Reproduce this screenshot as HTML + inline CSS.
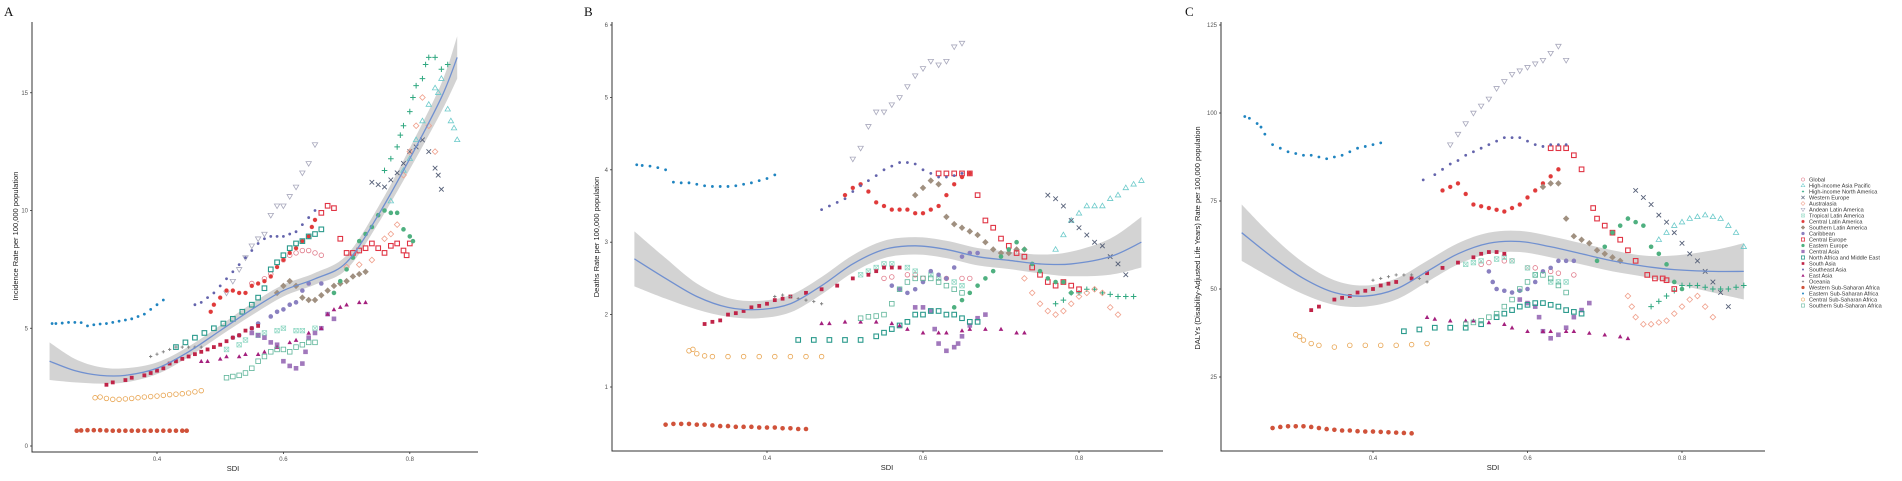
<!DOCTYPE html>
<html><head><meta charset="utf-8">
<style>
html,body{margin:0;padding:0;background:#fff;}
svg{display:block;font-family:"Liberation Sans",sans-serif;}
</style></head>
<body>
<svg id="fig" width="1902" height="481" viewBox="0 0 1902 481" xmlns="http://www.w3.org/2000/svg"></svg>
<script>
// ---- data ----
const regions = ["Global","High-income Asia Pacific","High-income North America","Western Europe","Australasia","Andean Latin America","Tropical Latin America","Central Latin America","Southern Latin America","Caribbean","Central Europe","Eastern Europe","Central Asia","North Africa and Middle East","South Asia","Southeast Asia","East Asia","Oceania","Western Sub-Saharan Africa","Eastern Sub-Saharan Africa","Central Sub-Saharan Africa","Southern Sub-Saharan Africa"];
const colors = ["#e07a8a","#6ccaca","#30a880","#566078","#f0a08c","#a8a8bc","#90d8c4","#e03a3a","#a09080","#8a80c0","#e03444","#4fb080","#9060b0","#2a9a8c","#c02448","#6464ac","#a4207e","#808080","#d0523a","#1f84c0","#e8a450","#5cb498"];
const shapes = ["ocircle","otri","plus","cross","odiamond","odtri","boxx","circx","diamplus","circplus","sqx","fcircle","fsqr","sqbox","fsq","dot","ftri","splus","fcircle","dot","ocircle","osq"];

// Panel A: incidence
const incidenceData = [
 [[0.55,6.9],[0.57,7.1],[0.58,7.3],[0.60,7.9],[0.61,8.1],[0.62,8.2],[0.63,8.3],[0.64,8.3],[0.65,8.2],[0.66,8.1]],
 [[0.77,10.4],[0.79,11.7],[0.80,12.2],[0.81,13.0],[0.82,13.8],[0.83,14.5],[0.84,15.2],[0.845,15.0],[0.85,15.6],[0.86,14.3],[0.865,13.8],[0.87,13.5],[0.875,13.0]],
 [[0.76,11.7],[0.77,12.2],[0.78,12.7],[0.785,13.2],[0.79,13.6],[0.80,14.2],[0.805,14.8],[0.81,15.3],[0.82,15.6],[0.825,16.2],[0.83,16.5],[0.84,16.5],[0.85,16.0],[0.86,16.2]],
 [[0.74,11.2],[0.75,11.1],[0.76,11.0],[0.77,11.3],[0.78,11.6],[0.79,12.0],[0.80,12.5],[0.81,12.7],[0.82,13.0],[0.83,12.5],[0.84,11.8],[0.845,11.5],[0.85,10.9]],
 [[0.70,7.6],[0.72,7.7],[0.74,7.9],[0.76,8.8],[0.77,9.0],[0.78,9.4],[0.79,11.5],[0.80,12.5],[0.81,13.6],[0.82,14.8],[0.83,13.6],[0.84,12.5]],
 [[0.51,6.5],[0.52,7.0],[0.53,7.5],[0.54,8.0],[0.55,8.5],[0.56,8.8],[0.57,9.0],[0.58,9.8],[0.59,10.2],[0.60,10.2],[0.61,10.6],[0.62,11.0],[0.63,11.6],[0.64,12.0],[0.65,12.8]],
 [[0.51,4.1],[0.53,4.3],[0.54,4.5],[0.56,4.7],[0.57,4.8],[0.59,4.9],[0.60,5.0],[0.62,4.9],[0.63,4.9],[0.65,5.0]],
 [[0.485,5.7],[0.49,6.0],[0.50,6.3],[0.51,6.6],[0.52,6.6],[0.53,6.5],[0.54,6.5],[0.55,6.8],[0.56,6.9],[0.57,7.0],[0.58,7.2],[0.59,7.6],[0.60,7.9],[0.61,8.2],[0.62,8.4],[0.63,8.7],[0.64,8.9],[0.645,9.3],[0.65,9.6]],
 [[0.59,6.5],[0.60,6.8],[0.61,7.0],[0.62,6.8],[0.63,6.3],[0.64,6.2],[0.65,6.2],[0.66,6.4],[0.67,6.6],[0.68,6.8],[0.69,6.9],[0.70,7.0],[0.71,7.2],[0.72,7.3],[0.73,7.4]],
 [[0.52,4.6],[0.53,4.7],[0.55,5.0],[0.56,5.2],[0.58,5.5],[0.59,5.7],[0.60,5.8],[0.61,6.0],[0.62,6.1],[0.63,6.6],[0.64,6.9],[0.66,6.9]],
 [[0.66,9.9],[0.67,10.2],[0.68,10.1],[0.69,8.8],[0.70,8.2],[0.71,8.2],[0.72,8.3],[0.73,8.4],[0.74,8.6],[0.75,8.4],[0.76,8.2],[0.77,8.5],[0.78,8.6],[0.79,8.3],[0.795,8.1],[0.80,8.6]],
 [[0.68,6.5],[0.69,7.0],[0.70,7.5],[0.71,8.0],[0.72,8.7],[0.73,9.0],[0.74,9.3],[0.75,9.8],[0.76,10.0],[0.77,9.9],[0.78,9.9],[0.79,9.2],[0.80,8.9],[0.805,8.7]],
 [[0.55,4.8],[0.56,4.7],[0.57,4.6],[0.58,4.4],[0.59,4.3],[0.60,3.6],[0.61,3.4],[0.62,3.3],[0.63,3.5],[0.635,4.0],[0.64,4.6],[0.65,4.8],[0.66,5.0],[0.67,5.6],[0.68,5.4]],
 [[0.43,4.2],[0.445,4.4],[0.46,4.6],[0.475,4.8],[0.49,5.0],[0.505,5.2],[0.52,5.4],[0.535,5.7],[0.55,6.0],[0.56,6.3],[0.57,6.7],[0.58,7.5],[0.59,7.8],[0.60,8.1],[0.61,8.4],[0.62,8.6],[0.63,8.7],[0.64,8.9],[0.65,9.0],[0.66,9.2]],
 [[0.32,2.6],[0.33,2.7],[0.35,2.8],[0.36,2.9],[0.38,3.0],[0.39,3.1],[0.40,3.2],[0.41,3.3],[0.42,3.5],[0.43,3.6],[0.44,3.7],[0.45,3.8],[0.46,3.9],[0.47,4.0],[0.48,4.1],[0.49,4.2],[0.50,4.3],[0.51,4.45],[0.52,4.6],[0.53,4.7],[0.54,4.9],[0.55,5.0],[0.56,5.1]],
 [[0.46,6.0],[0.47,6.1],[0.48,6.3],[0.49,6.5],[0.50,6.8],[0.51,7.1],[0.52,7.4],[0.53,7.7],[0.54,8.0],[0.55,8.3],[0.56,8.6],[0.57,8.8],[0.58,8.9],[0.59,8.9],[0.60,8.9],[0.61,9.0],[0.62,9.1],[0.63,9.4],[0.64,9.7],[0.65,10.0]],
 [[0.47,3.6],[0.48,3.6],[0.50,3.7],[0.51,3.8],[0.53,3.8],[0.54,3.9],[0.56,3.9],[0.57,4.0],[0.59,4.2],[0.61,4.4],[0.62,4.5],[0.64,4.8],[0.66,5.0],[0.67,5.6],[0.68,5.8],[0.69,5.9],[0.70,6.0],[0.72,6.1],[0.73,6.1]],
 [[0.39,3.8],[0.40,3.9],[0.41,4.0],[0.42,4.1],[0.43,4.2],[0.44,4.2],[0.45,4.2],[0.46,4.2],[0.47,4.2]],
 [[0.273,0.65],[0.28,0.66],[0.29,0.67],[0.30,0.67],[0.31,0.67],[0.32,0.66],[0.33,0.65],[0.34,0.65],[0.35,0.65],[0.36,0.65],[0.37,0.65],[0.38,0.65],[0.39,0.65],[0.40,0.65],[0.41,0.65],[0.42,0.65],[0.43,0.65],[0.44,0.65],[0.447,0.65]],
 [[0.234,5.2],[0.24,5.2],[0.25,5.22],[0.26,5.25],[0.27,5.25],[0.28,5.24],[0.29,5.1],[0.30,5.15],[0.31,5.18],[0.32,5.2],[0.33,5.25],[0.34,5.3],[0.35,5.35],[0.36,5.4],[0.37,5.5],[0.38,5.6],[0.39,5.8],[0.40,6.0],[0.41,6.2]],
 [[0.302,2.05],[0.31,2.08],[0.32,2.02],[0.33,1.98],[0.34,1.98],[0.35,2.0],[0.36,2.02],[0.37,2.05],[0.38,2.08],[0.39,2.1],[0.40,2.12],[0.41,2.15],[0.42,2.18],[0.43,2.2],[0.44,2.22],[0.45,2.25],[0.46,2.3],[0.47,2.35]],
 [[0.51,2.9],[0.52,2.95],[0.53,3.0],[0.54,3.1],[0.55,3.3],[0.56,3.6],[0.57,3.8],[0.58,4.0],[0.59,4.1],[0.60,4.1],[0.61,4.0],[0.62,4.2],[0.63,4.3],[0.64,4.4],[0.65,4.4]]
];
const smoothSdi = [0.23,0.27,0.31,0.35,0.40,0.45,0.50,0.55,0.60,0.65,0.70,0.75,0.80,0.85,0.875];
const smoothInc = [3.6,3.2,3.0,3.0,3.3,4.0,4.9,5.8,6.6,7.1,7.8,9.8,12.2,14.8,16.5];
const bandInc  = [0.8,0.5,0.35,0.3,0.25,0.22,0.22,0.25,0.25,0.25,0.3,0.35,0.45,0.6,0.9];

// Panel B: deaths
const deathsData = [
 [[0.55,2.5],[0.56,2.52],[0.58,2.55],[0.59,2.55],[0.60,2.5],[0.62,2.5],[0.63,2.5],[0.65,2.5],[0.66,2.5]],
 [[0.77,2.9],[0.78,3.1],[0.79,3.3],[0.80,3.4],[0.81,3.5],[0.82,3.5],[0.83,3.5],[0.84,3.6],[0.85,3.65],[0.86,3.75],[0.87,3.8],[0.88,3.85]],
 [[0.77,2.15],[0.78,2.2],[0.79,2.3],[0.80,2.3],[0.81,2.35],[0.82,2.35],[0.83,2.3],[0.84,2.28],[0.85,2.25],[0.86,2.25],[0.87,2.25]],
 [[0.76,3.65],[0.77,3.6],[0.78,3.5],[0.79,3.3],[0.80,3.2],[0.81,3.1],[0.82,3.0],[0.83,2.95],[0.84,2.8],[0.85,2.7],[0.86,2.55]],
 [[0.73,2.5],[0.74,2.3],[0.75,2.15],[0.76,2.05],[0.77,2.0],[0.78,2.05],[0.79,2.15],[0.80,2.25],[0.81,2.3],[0.82,2.35],[0.83,2.3],[0.84,2.1],[0.85,2.0]],
 [[0.51,4.15],[0.52,4.3],[0.53,4.6],[0.54,4.8],[0.55,4.8],[0.56,4.9],[0.57,5.0],[0.58,5.15],[0.59,5.3],[0.60,5.4],[0.61,5.5],[0.62,5.45],[0.63,5.5],[0.64,5.7],[0.65,5.75]],
 [[0.52,2.55],[0.53,2.6],[0.54,2.65],[0.55,2.7],[0.56,2.7],[0.58,2.65],[0.59,2.6],[0.61,2.55],[0.62,2.5],[0.64,2.45],[0.65,2.4]],
 [[0.50,3.65],[0.51,3.75],[0.52,3.8],[0.53,3.7],[0.54,3.55],[0.55,3.5],[0.56,3.45],[0.57,3.45],[0.58,3.45],[0.59,3.4],[0.60,3.4],[0.61,3.45],[0.62,3.5],[0.63,3.65],[0.64,3.8],[0.65,3.9],[0.66,3.95]],
 [[0.59,3.65],[0.60,3.75],[0.61,3.85],[0.62,3.8],[0.63,3.35],[0.64,3.25],[0.65,3.2],[0.66,3.15],[0.67,3.1],[0.68,3.0],[0.69,2.9],[0.70,2.85],[0.71,2.85],[0.72,2.9],[0.73,2.9]],
 [[0.56,2.4],[0.57,2.35],[0.58,2.3],[0.59,2.35],[0.60,2.45],[0.61,2.6],[0.62,2.55],[0.63,2.5],[0.64,2.65],[0.65,2.8],[0.66,2.85],[0.67,2.85]],
 [[0.62,3.95],[0.63,3.95],[0.64,3.95],[0.65,3.95],[0.66,3.95],[0.67,3.65],[0.68,3.3],[0.69,3.2],[0.70,3.05],[0.71,2.95],[0.72,2.85],[0.73,2.8],[0.74,2.65],[0.75,2.55],[0.76,2.45],[0.77,2.4],[0.78,2.45],[0.79,2.4],[0.80,2.35]],
 [[0.64,2.1],[0.65,2.2],[0.66,2.3],[0.67,2.4],[0.68,2.5],[0.69,2.6],[0.70,2.8],[0.71,2.9],[0.72,3.0],[0.73,2.9],[0.74,2.7],[0.75,2.6],[0.76,2.5],[0.77,2.45],[0.78,2.45],[0.79,2.3]],
 [[0.59,2.1],[0.60,2.1],[0.61,2.05],[0.615,1.8],[0.62,1.6],[0.63,1.5],[0.64,1.55],[0.645,1.6],[0.65,1.7],[0.66,1.85],[0.67,1.95],[0.68,2.0]],
 [[0.44,1.65],[0.46,1.65],[0.48,1.65],[0.50,1.65],[0.52,1.65],[0.54,1.7],[0.55,1.75],[0.56,1.8],[0.57,1.85],[0.58,1.9],[0.59,2.0],[0.60,2.0],[0.61,2.05],[0.62,2.05],[0.63,2.0],[0.64,2.0],[0.65,1.95],[0.66,1.9],[0.67,1.9]],
 [[0.32,1.87],[0.33,1.9],[0.34,1.92],[0.35,2.0],[0.36,2.02],[0.37,2.05],[0.38,2.1],[0.39,2.12],[0.40,2.15],[0.41,2.2],[0.42,2.22],[0.43,2.25],[0.45,2.3],[0.47,2.35],[0.49,2.4],[0.51,2.5],[0.53,2.55],[0.54,2.6],[0.55,2.65],[0.56,2.65],[0.57,2.65]],
 [[0.47,3.45],[0.48,3.5],[0.49,3.55],[0.50,3.6],[0.51,3.7],[0.52,3.78],[0.53,3.85],[0.54,3.92],[0.55,4.0],[0.56,4.05],[0.57,4.1],[0.58,4.1],[0.59,4.08],[0.60,4.0],[0.61,3.95],[0.62,3.9],[0.63,3.9],[0.64,3.92],[0.65,3.95]],
 [[0.47,1.88],[0.48,1.88],[0.50,1.9],[0.52,1.9],[0.54,1.9],[0.56,1.88],[0.57,1.85],[0.58,1.8],[0.60,1.75],[0.62,1.75],[0.63,1.75],[0.65,1.78],[0.66,1.8],[0.68,1.8],[0.70,1.8],[0.72,1.75],[0.73,1.75]],
 [[0.41,2.25],[0.42,2.27],[0.43,2.25],[0.44,2.22],[0.45,2.2],[0.46,2.18],[0.47,2.15]],
 [[0.27,0.48],[0.28,0.49],[0.29,0.49],[0.30,0.49],[0.31,0.48],[0.32,0.48],[0.33,0.47],[0.34,0.46],[0.35,0.46],[0.36,0.45],[0.37,0.45],[0.38,0.45],[0.39,0.44],[0.40,0.44],[0.41,0.44],[0.42,0.43],[0.43,0.43],[0.44,0.42],[0.45,0.42]],
 [[0.233,4.07],[0.24,4.06],[0.25,4.05],[0.26,4.03],[0.27,4.0],[0.28,3.83],[0.29,3.82],[0.30,3.82],[0.31,3.8],[0.32,3.78],[0.33,3.77],[0.34,3.77],[0.35,3.77],[0.36,3.78],[0.37,3.8],[0.38,3.82],[0.39,3.85],[0.40,3.88],[0.41,3.93]],
 [[0.30,1.5],[0.305,1.52],[0.31,1.46],[0.32,1.43],[0.33,1.42],[0.35,1.42],[0.37,1.42],[0.39,1.42],[0.41,1.42],[0.43,1.42],[0.45,1.42],[0.47,1.42]],
 [[0.52,1.95],[0.53,1.97],[0.54,1.98],[0.55,2.0],[0.56,2.15],[0.57,2.35],[0.58,2.45],[0.59,2.5],[0.60,2.5],[0.61,2.5],[0.62,2.45],[0.63,2.4],[0.64,2.35],[0.65,2.3]]
];
const smoothSdiB = [0.23,0.27,0.31,0.35,0.39,0.43,0.47,0.51,0.55,0.59,0.63,0.67,0.71,0.75,0.79,0.84,0.88];
const smoothDeaths = [2.77,2.5,2.25,2.1,2.07,2.15,2.4,2.7,2.9,2.95,2.9,2.8,2.75,2.7,2.7,2.8,3.0];
const bandDeaths = [0.38,0.28,0.18,0.13,0.12,0.12,0.12,0.12,0.12,0.12,0.12,0.12,0.12,0.13,0.17,0.25,0.35];

// Panel C: DALYs
const dalysData = [
 [[0.54,57],[0.55,57.5],[0.57,58],[0.58,58],[0.60,56],[0.61,56],[0.63,55],[0.64,54.5],[0.66,54]],
 [[0.77,64],[0.78,66],[0.79,68],[0.80,69],[0.81,70],[0.82,70.5],[0.83,71],[0.84,70.5],[0.85,70],[0.86,68],[0.87,66],[0.88,62]],
 [[0.76,45],[0.77,46.5],[0.78,48],[0.79,49.5],[0.80,51],[0.81,51],[0.82,51],[0.83,50.5],[0.84,50],[0.85,50],[0.86,50],[0.87,50.5],[0.88,51]],
 [[0.74,78],[0.75,76],[0.76,74],[0.77,71],[0.78,69],[0.79,66],[0.80,63],[0.81,60],[0.82,58],[0.83,55],[0.84,52],[0.85,49],[0.86,45]],
 [[0.73,48],[0.735,45],[0.74,42],[0.75,40],[0.76,40],[0.77,40.5],[0.78,41],[0.79,43],[0.80,45],[0.81,47],[0.82,48],[0.83,45],[0.84,42]],
 [[0.50,91],[0.51,94],[0.52,97],[0.53,100],[0.54,102],[0.55,104],[0.56,107],[0.57,109],[0.58,111],[0.59,112],[0.60,113],[0.61,114],[0.62,115],[0.63,117],[0.64,119],[0.65,115]],
 [[0.52,57],[0.53,57.5],[0.54,58],[0.56,58.5],[0.57,59],[0.58,58],[0.60,56],[0.61,54],[0.63,52],[0.64,52],[0.65,52]],
 [[0.49,78],[0.50,79],[0.51,80],[0.52,77],[0.53,74],[0.54,73.5],[0.55,73],[0.56,72.5],[0.57,72],[0.58,73],[0.59,74],[0.60,76],[0.61,78],[0.62,80],[0.63,82],[0.64,84]],
 [[0.62,79],[0.63,80],[0.64,80],[0.65,70],[0.66,65],[0.67,64],[0.68,63],[0.69,61],[0.70,60],[0.71,59],[0.72,58]],
 [[0.55,55],[0.555,52],[0.56,50],[0.57,49.5],[0.58,49],[0.59,49.5],[0.60,50],[0.61,52],[0.62,55],[0.63,56],[0.64,58],[0.65,58],[0.66,58]],
 [[0.63,90],[0.64,90],[0.65,90],[0.66,88],[0.67,84],[0.685,73],[0.69,70],[0.70,68],[0.71,66],[0.72,64],[0.73,61],[0.74,58],[0.755,54],[0.765,53],[0.775,53],[0.78,52.5],[0.79,50]],
 [[0.69,58],[0.70,62],[0.71,66],[0.72,68],[0.73,70],[0.74,69],[0.75,68],[0.76,62],[0.77,60],[0.78,57],[0.79,52],[0.80,50]],
 [[0.59,47],[0.60,46],[0.61,45],[0.615,42],[0.62,38],[0.63,36],[0.64,37],[0.65,39],[0.66,42],[0.67,44],[0.68,46]],
 [[0.44,38],[0.46,38.5],[0.48,39],[0.50,39],[0.52,39],[0.54,40],[0.56,42],[0.57,43],[0.58,44],[0.59,45],[0.60,45.5],[0.61,46],[0.62,46],[0.63,45.5],[0.64,45],[0.65,44],[0.66,43.5],[0.67,43]],
 [[0.32,44],[0.33,45],[0.35,47],[0.36,47.5],[0.37,48],[0.38,49],[0.39,49.5],[0.40,50],[0.41,51],[0.42,51.5],[0.43,52],[0.45,53],[0.47,54.5],[0.49,56],[0.51,57.5],[0.53,59],[0.54,60],[0.55,60.5],[0.56,60.5],[0.57,60]],
 [[0.465,81],[0.48,82.5],[0.49,84],[0.50,85.5],[0.51,86.5],[0.52,88],[0.53,89],[0.54,90],[0.55,91],[0.56,92],[0.57,93],[0.58,93],[0.59,93],[0.60,92],[0.61,91],[0.62,90.5],[0.63,91],[0.64,91],[0.65,91]],
 [[0.47,42],[0.48,41.5],[0.50,41],[0.52,41],[0.53,41],[0.55,40.5],[0.57,40],[0.58,39],[0.60,38],[0.62,38],[0.63,38],[0.65,38],[0.66,38],[0.68,37.5],[0.70,37],[0.72,36.5],[0.73,36]],
 [[0.40,52.5],[0.41,53],[0.42,53.5],[0.43,54],[0.44,54],[0.45,54],[0.46,53],[0.47,52]],
 [[0.27,10.5],[0.28,10.8],[0.29,11],[0.30,11],[0.31,11],[0.32,10.8],[0.33,10.5],[0.34,10.2],[0.35,10],[0.36,9.8],[0.37,9.8],[0.38,9.6],[0.39,9.5],[0.40,9.5],[0.41,9.4],[0.42,9.3],[0.43,9.2],[0.44,9.1],[0.45,9]],
 [[0.234,99],[0.24,98.5],[0.25,97],[0.255,96],[0.26,94],[0.27,91],[0.28,90],[0.29,89],[0.30,88.5],[0.31,88],[0.32,88],[0.33,87.5],[0.34,87],[0.35,87.5],[0.36,88],[0.37,89],[0.38,90],[0.39,90.5],[0.40,91],[0.41,91.5]],
 [[0.30,37],[0.305,36.5],[0.31,35.5],[0.32,34.5],[0.33,34],[0.35,33.5],[0.37,34],[0.39,34],[0.41,34],[0.43,34],[0.45,34.2],[0.47,34.5]],
 [[0.52,40],[0.53,40.5],[0.54,41],[0.55,42],[0.56,43],[0.57,45],[0.58,47],[0.59,50],[0.60,52],[0.61,54],[0.62,54],[0.63,53],[0.64,51],[0.65,49]]
];
const smoothSdiC = [0.23,0.27,0.31,0.35,0.39,0.43,0.47,0.51,0.55,0.59,0.63,0.67,0.71,0.75,0.79,0.84,0.88];
const smoothDalys = [66,59,53,49,48,50,55,60,63,63.5,62,60,58,56.5,55.5,55,55];
const bandDalys = [8,6,4.5,3.5,3,3,3,3,3,3,3,3,3,3,4,6,8];

const yTicksA = [0,5,10,15];
const yTicksB = [1,2,3,4,5,6];
const yTicksC = [25,50,75,100,125];
const xTicks = [0.4,0.6,0.8];

// ---- drawing ----
const NS="http://www.w3.org/2000/svg";
const svg=document.getElementById('fig');
function mk(tag,attrs,parent){const e=document.createElementNS(NS,tag);for(const k in attrs)e.setAttribute(k,attrs[k]);(parent||svg).appendChild(e);return e;}

function marker(g,shape,x,y,c){
  const r=2.3;let e;
  switch(shape){
    case "ocircle": e=mk('circle',{cx:x,cy:y,r:r,fill:'none',stroke:c,'stroke-width':0.8},g);break;
    case "fcircle": e=mk('circle',{cx:x,cy:y,r:r,fill:c},g);break;
    case "dot": e=mk('circle',{cx:x,cy:y,r:1.4,fill:c},g);break;
    case "otri": e=mk('path',{d:`M${x},${y-r-0.5}L${x+r+0.4},${y+r-0.5}L${x-r-0.4},${y+r-0.5}Z`,fill:'none',stroke:c,'stroke-width':0.8},g);break;
    case "ftri": e=mk('path',{d:`M${x},${y-r}L${x+r},${y+r-0.5}L${x-r},${y+r-0.5}Z`,fill:c},g);break;
    case "odtri": e=mk('path',{d:`M${x},${y+r+0.5}L${x+r+0.4},${y-r+0.5}L${x-r-0.4},${y-r+0.5}Z`,fill:'none',stroke:c,'stroke-width':0.8},g);break;
    case "plus": e=mk('path',{d:`M${x-r-0.5},${y}H${x+r+0.5}M${x},${y-r-0.5}V${y+r+0.5}`,stroke:c,'stroke-width':1},g);break;
    case "splus": e=mk('path',{d:`M${x-1.6},${y}H${x+1.6}M${x},${y-1.6}V${y+1.6}`,stroke:c,'stroke-width':0.9},g);break;
    case "cross": e=mk('path',{d:`M${x-r},${y-r}L${x+r},${y+r}M${x-r},${y+r}L${x+r},${y-r}`,stroke:c,'stroke-width':0.9},g);break;
    case "odiamond": e=mk('path',{d:`M${x},${y-r-0.5}L${x+r+0.5},${y}L${x},${y+r+0.5}L${x-r-0.5},${y}Z`,fill:'none',stroke:c,'stroke-width':0.8},g);break;
    case "diamplus": e=mk('path',{d:`M${x},${y-r-0.5}L${x+r+0.5},${y}L${x},${y+r+0.5}L${x-r-0.5},${y}Z`,fill:c,stroke:c,'stroke-width':0.6},g);break;
    case "boxx": e=mk('path',{d:`M${x-r},${y-r}h${2*r}v${2*r}h${-2*r}ZM${x-r},${y-r}L${x+r},${y+r}M${x-r},${y+r}L${x+r},${y-r}`,fill:'none',stroke:c,'stroke-width':0.7},g);break;
    case "circx": e=mk('circle',{cx:x,cy:y,r:r,fill:c,stroke:'#fff','stroke-width':0.3},g);break;
    case "circplus": e=mk('circle',{cx:x,cy:y,r:r,fill:c},g);break;
    case "sqx": e=mk('rect',{x:x-r,y:y-r,width:2*r,height:2*r,fill:'none',stroke:c,'stroke-width':1.1},g);break;
    case "fsqr": e=mk('rect',{x:x-r,y:y-r,width:2*r,height:2*r,fill:c,opacity:0.85},g);break;
    case "sqbox": e=mk('rect',{x:x-r,y:y-r,width:2*r,height:2*r,fill:'none',stroke:c,'stroke-width':1.1},g);break;
    case "fsq": e=mk('rect',{x:x-1.9,y:y-1.9,width:3.8,height:3.8,fill:c},g);break;
    case "osq": e=mk('rect',{x:x-r,y:y-r,width:2*r,height:2*r,fill:'none',stroke:c,'stroke-width':0.8},g);break;
  }
  return e;
}

function smoothPath(pts){
  let d=`M${pts[0][0]},${pts[0][1]}`;
  for(let i=0;i<pts.length-1;i++){
    const p0=pts[Math.max(0,i-1)],p1=pts[i],p2=pts[i+1],p3=pts[Math.min(pts.length-1,i+2)];
    const c1x=p1[0]+(p2[0]-p0[0])/6,c1y=p1[1]+(p2[1]-p0[1])/6;
    const c2x=p2[0]-(p3[0]-p1[0])/6,c2y=p2[1]-(p3[1]-p1[1])/6;
    d+=`C${c1x},${c1y} ${c2x},${c2y} ${p2[0]},${p2[1]}`;
  }
  return d;
}

function panel(cfg){
  const g=mk('g',{});
  
  
  const xs=s=>cfg.x04+(s-0.4)*cfg.xScale;
  const ys=v=>cfg.y0-v*cfg.yScale;
  // band
  const up=cfg.sx.map((s,i)=>[xs(s),ys(cfg.sy[i]+cfg.band[i])]);
  const lo=cfg.sx.map((s,i)=>[xs(s),ys(cfg.sy[i]-cfg.band[i])]).reverse();
  const bandD=smoothPath(up)+'L'+smoothPath(lo).slice(1)+'Z';
  const band=mk('path',{d:bandD,fill:'#c8c8c8',opacity:0.8},g);
  
  
  // points
  cfg.data.forEach((series,ri)=>{
    const sg=mk('g',{},g);
    
    
    series.forEach(p=>{
      const m=marker(sg,shapes[ri],xs(p[0]),ys(p[1]),colors[ri]);
      
      
    });
  });
  // smooth line
  const line=mk('path',{d:smoothPath(cfg.sx.map((s,i)=>[xs(s),ys(cfg.sy[i])])),fill:'none',stroke:'#7090d0','stroke-width':1.3},g);
  
  
  // axes
  const ax=mk('path',{d:`M${cfg.axX},${cfg.top}V${cfg.axY}H${cfg.right}`,fill:'none',stroke:'#333','stroke-width':1},g);
  
  
  cfg.yTicks.forEach(v=>{
    mk('line',{x1:cfg.axX-2,x2:cfg.axX,y1:ys(v),y2:ys(v),stroke:'#333','stroke-width':0.8},g);
    const t=mk('text',{x:cfg.axX-4,y:ys(v)+2,'font-size':6,fill:'#555','text-anchor':'end'},g);
    t.textContent=v;
    
    
  });
  xTicks.forEach(s=>{
    mk('line',{x1:xs(s),x2:xs(s),y1:cfg.axY,y2:cfg.axY+2,stroke:'#333','stroke-width':0.8},g);
    const t=mk('text',{x:xs(s),y:cfg.axY+9,'font-size':6,fill:'#555','text-anchor':'middle'},g);
    t.textContent=s.toFixed(1);
    
    
  });
  const xt=mk('text',{x:cfg.sdiX,y:cfg.axY+19,'font-size':7.5,fill:'#222','text-anchor':'middle'},g);
  xt.textContent='SDI';
  
  
  const yt=mk('text',{x:0,y:0,'font-size':7.5,fill:'#222','text-anchor':'middle',transform:`translate(${cfg.ytX},${cfg.ytY}) rotate(-90)`},g);
  yt.textContent=cfg.yTitle;
  
  
  const lt=mk('text',{x:cfg.letX,y:16,'font-size':13,fill:'#111','font-family':'"Liberation Serif",serif'},g);
  lt.textContent=cfg.letter;
  
  
}

panel({name:'panel-a-incidence',letter:'A',letX:4,data:incidenceData,sx:smoothSdi,sy:smoothInc,band:bandInc,
  x04:157,xScale:632,y0:446,yScale:23.55,axX:32,axY:452,top:22,right:478,yTicks:yTicksA,
  sdiX:233,ytX:18,ytY:236,yTitle:'Incidence Rate per 100,000 population'});
panel({name:'panel-b-deaths',letter:'B',letX:584,data:deathsData,sx:smoothSdiB,sy:smoothDeaths,band:bandDeaths,
  x04:767,xScale:780,y0:459.4,yScale:72.4,axX:612,axY:451,top:22,right:1163,yTicks:yTicksB,
  sdiX:887,ytX:599,ytY:237,yTitle:'Deaths Rate per 100,000 population'});
panel({name:'panel-c-dalys',letter:'C',letX:1185,data:dalysData,sx:smoothSdiC,sy:smoothDalys,band:bandDalys,
  x04:1373,xScale:772.5,y0:465,yScale:3.52,axX:1221,axY:451,top:22,right:1765,yTicks:yTicksC,
  sdiX:1493,ytX:1200,ytY:238,yTitle:'DALYs (Disability-Adjusted Life Years) Rate per 100,000 population'});

// legend
const lg=mk('g',{});


regions.forEach((r,i)=>{
  const y=179.5+i*6.0;
  const eg=mk('g',{},lg);
  
  
  const sh=shapes[i]==='plus'?'splus':shapes[i];
  const m=marker(eg,sh,1803,y,colors[i]);
  if(m){m.setAttribute('transform',`translate(1803,${y}) scale(0.7) translate(-1803,${-y})`);}
  const t=mk('text',{x:1809,y:y+2,'font-size':5.6,fill:'#333'},eg);
  t.textContent=r;
});
</script>
</body></html>
